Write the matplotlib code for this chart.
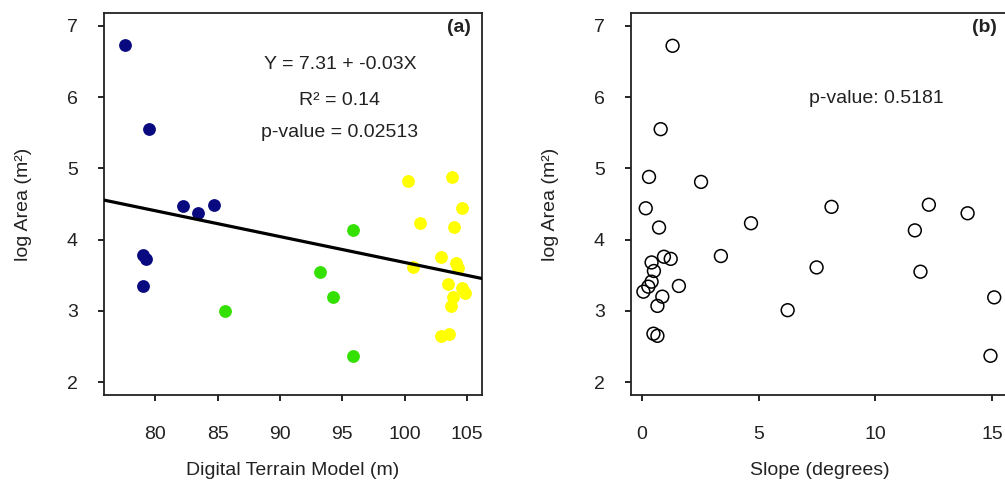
import matplotlib.pyplot as plt
import numpy as np

plt.rcParams['font.family'] = ['Liberation Sans', 'DejaVu Sans']

# panel (a): digital terrain model vs log area, grouped by elevation class
dtm_low = [77.6, 79.5, 82.2, 83.4, 84.7, 79.0, 79.3, 79.0]
area_low = [6.73, 5.55, 4.47, 4.37, 4.49, 3.78, 3.73, 3.35]
dtm_mid = [85.6, 95.9, 93.25, 94.3, 95.9]
area_mid = [3.00, 4.13, 3.54, 3.19, 2.37]
dtm_high = [100.27, 103.8, 104.6, 101.2, 104.0, 102.9, 104.15, 104.3,
            100.7, 103.5, 104.6, 104.85, 103.9, 103.75, 102.9, 103.55]
area_high = [4.82, 4.88, 4.44, 4.23, 4.18, 3.76, 3.67, 3.60,
             3.61, 3.38, 3.32, 3.25, 3.20, 3.07, 2.65, 2.68]

# fitted line (rounded in the label)
intercept = 7.31
slope = -0.0363

# panel (b): slope vs log area
slope_deg = [1.31, 0.80, 0.30, 2.53, 0.16, 0.73, 4.67, 0.94, 1.23, 3.38,
             0.41, 0.51, 0.41, 0.27, 0.06, 1.58, 0.87, 0.66, 6.24, 0.49,
             0.66, 8.12, 12.29, 13.95, 11.69, 7.48, 11.93, 15.09, 14.93]
area_b = [6.72, 5.55, 4.88, 4.81, 4.44, 4.17, 4.23, 3.76, 3.73, 3.77,
          3.68, 3.56, 3.41, 3.34, 3.27, 3.35, 3.20, 3.07, 3.01, 2.68,
          2.65, 4.46, 4.49, 4.37, 4.13, 3.61, 3.55, 3.19, 2.37]

fs = 14
txt = '#222222'
fig = plt.figure(figsize=(10.05, 4.93), dpi=100)
ax1 = fig.add_axes([0.1035, 0.1988, 0.376, 0.7748])
ax2 = fig.add_axes([0.6279, 0.1988, 0.376, 0.7748])

ax1.scatter(dtm_low, area_low, s=85, c='#0a0a80', linewidths=0, zorder=3)
ax1.scatter(dtm_mid, area_mid, s=85, c='#33e000', linewidths=0, zorder=3)
ax1.scatter(dtm_high, area_high, s=85, c='#ffff00', linewidths=0, zorder=3)

xl = np.array([75.9, 106.2])
ax1.plot(xl, intercept + slope * xl, color='black', lw=2.3, zorder=4)
ax1.set_xlim(75.9, 106.2)
ax1.set_xticks([80, 85, 90, 95, 100, 105])
ax1.set_xlabel('Digital Terrain Model (m)', fontsize=fs, labelpad=14, color=txt)

ax1.text(0.624, 0.864, 'Y = 7.31 + -0.03X', transform=ax1.transAxes,
         ha='center', va='center', fontsize=fs, color=txt)
ax1.text(0.624, 0.772, 'R² = 0.14', transform=ax1.transAxes,
         ha='center', va='center', fontsize=fs, color=txt)
ax1.text(0.624, 0.686, 'p-value = 0.02513', transform=ax1.transAxes,
         ha='center', va='center', fontsize=fs, color=txt)
ax1.text(0.971, 0.962, '(a)', transform=ax1.transAxes, ha='right',
         va='center', fontsize=fs, fontweight='bold', color=txt)

ax2.scatter(slope_deg, area_b, s=85, facecolors='none', edgecolors='black',
            linewidths=1.1, zorder=3)
ax2.set_xlim(-0.47, 15.72)
ax2.set_xticks([0, 5, 10, 15])
ax2.set_xlabel('Slope (degrees)', fontsize=fs, labelpad=14, color=txt)
ax2.text(0.648, 0.777, 'p-value: 0.5181', transform=ax2.transAxes,
         ha='center', va='center', fontsize=fs, color=txt)
ax2.text(0.968, 0.962, '(b)', transform=ax2.transAxes, ha='right',
         va='center', fontsize=fs, fontweight='bold', color=txt)

for ax in (ax1, ax2):
    ax.set_ylim(1.82, 7.18)
    ax.set_yticks([2, 3, 4, 5, 6, 7])
    ax.set_ylabel('log Area (m²)', fontsize=fs, labelpad=25, color=txt)
    ax.tick_params(direction='out', length=4, width=1.2, labelsize=fs,
                   labelcolor=txt)
    ax.tick_params(axis='x', pad=18)
    ax.tick_params(axis='y', pad=15)
    for sp in ax.spines.values():
        sp.set_linewidth(1.3)
        sp.set_color('#222222')

fig.savefig('out.png', dpi=100)
